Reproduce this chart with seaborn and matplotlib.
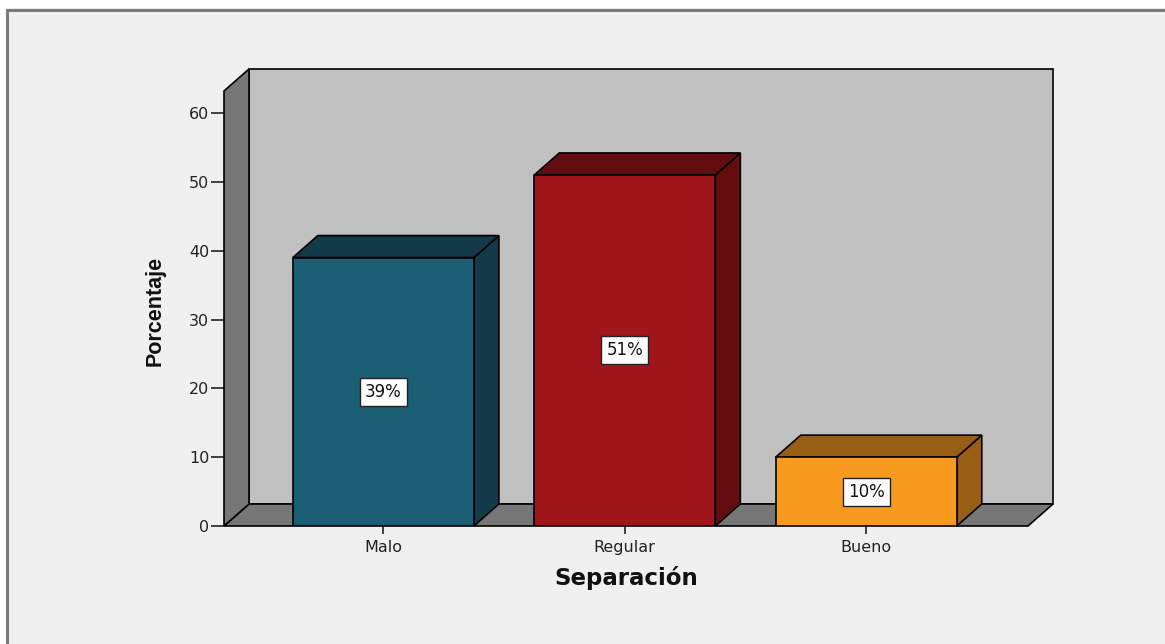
import matplotlib
matplotlib.use("Agg")
import matplotlib.pyplot as plt
from matplotlib.patches import Polygon, Rectangle
from matplotlib.lines import Line2D
import seaborn as sns
import pandas as pd

# Data
categorias = ["Malo", "Regular", "Bueno"]
porcentajes = [39, 51, 10]
etiquetas = ["39%", "51%", "10%"]
y_ticks = [0, 10, 20, 30, 40, 50, 60]

# Colours: front face and shaded (top / side) face per bar
color_frente = ["#1c5e74", "#a0161a", "#f79a1e"]
color_sombra = ["#133a48", "#630d10", "#985e13"]
pared_fondo = "#c0c0c0"
pared_gris = "#777777"
fondo = "#f0f0f0"

sns.set_style("white")
plt.rcParams["font.family"] = ["DejaVu Sans"]

W, H = 1165, 644
fig = plt.figure(figsize=(W / 100, H / 100), dpi=100, facecolor=fondo)

# front plane of the 3-D box, in pixels
left_px, right_px, bottom_px, top_px = 224, 1028, 526, 91
ax = fig.add_axes([left_px / W, 1 - bottom_px / H,
                   (right_px - left_px) / W, (bottom_px - top_px) / H])
ax.set_facecolor("none")

df = pd.DataFrame({"cat": categorias, "pct": porcentajes})
sns.barplot(data=df, x="cat", y="pct", hue="cat", palette=color_frente,
            width=0.75, edgecolor="black", linewidth=1.2, legend=False,
            ax=ax, zorder=5, saturation=1)

xlim = (-0.66, 2.67)
ylim = (0, 63.2)
ax.set_xlim(*xlim)
ax.set_ylim(*ylim)

# depth of the box in pixels, converted to data units
depth_x_px, depth_y_px = 25, 22
ddx = depth_x_px * (xlim[1] - xlim[0]) / (right_px - left_px)
ddy = depth_y_px * (ylim[1] - ylim[0]) / (bottom_px - top_px)

edge = dict(edgecolor="black", linewidth=1.2, clip_on=False, joinstyle="miter")
x0, x1 = xlim
y0, y1 = ylim
# back wall
ax.add_patch(Polygon([(x0 + ddx, y0 + ddy), (x1 + ddx, y0 + ddy),
                      (x1 + ddx, y1 + ddy), (x0 + ddx, y1 + ddy)],
                     facecolor=pared_fondo, zorder=1, **edge))
# floor
ax.add_patch(Polygon([(x0, y0), (x1, y0), (x1 + ddx, y0 + ddy), (x0 + ddx, y0 + ddy)],
                     facecolor=pared_gris, zorder=2, **edge))
# side wall
ax.add_patch(Polygon([(x0, y0), (x0, y1), (x0 + ddx, y1 + ddy), (x0 + ddx, y0 + ddy)],
                     facecolor=pared_gris, zorder=2, **edge))

# top and side faces of each bar, plus the value label
barras = [p for p in ax.patches if isinstance(p, Rectangle)]
for bar, sombra, txt in zip(barras, color_sombra, etiquetas):
    bx0 = bar.get_x()
    bx1 = bx0 + bar.get_width()
    h = bar.get_height()
    ax.add_patch(Polygon([(bx1, 0), (bx1 + ddx, ddy), (bx1 + ddx, h + ddy), (bx1, h)],
                         facecolor=sombra, zorder=4, **edge))
    ax.add_patch(Polygon([(bx0, h), (bx0 + ddx, h + ddy), (bx1 + ddx, h + ddy), (bx1, h)],
                         facecolor=sombra, zorder=4, **edge))
    ax.text(bx0 + bar.get_width() / 2, h / 2, txt, ha="center", va="center",
            fontsize=12, color="#111111", zorder=7,
            bbox=dict(boxstyle="square,pad=0.3", facecolor="white",
                      edgecolor="#222222", linewidth=1.0))

for s in ax.spines.values():
    s.set_visible(False)

ax.set_yticks(y_ticks)
ax.set_yticklabels([str(v) for v in y_ticks])
ax.tick_params(axis="y", length=9.5, width=1.2, pad=1, labelsize=11.5,
               colors="#222222", left=True)
ax.tick_params(axis="x", length=6, width=1.2, pad=4, labelsize=11.5,
               colors="#222222", bottom=True)

ax.set_xlabel("Separación", fontsize=16.5, fontweight="bold", color="#111111",
              labelpad=8)
ax.set_ylabel("Porcentaje", fontsize=15.5, fontweight="bold", color="#111111",
              family=["Liberation Sans", "DejaVu Sans"])
ax.yaxis.set_label_coords(-0.073, 0.495)

# window frame: white margin with a grey border line
fig.patches.append(Rectangle((0, 1 - 8 / H), 1, 8 / H, transform=fig.transFigure,
                             facecolor="white", edgecolor="none", zorder=0))
fig.patches.append(Rectangle((0, 0), 6 / W, 1, transform=fig.transFigure,
                             facecolor="white", edgecolor="none", zorder=0))
fig.lines.append(Line2D([6.5 / W, 1], [1 - 9.5 / H, 1 - 9.5 / H],
                        transform=fig.transFigure, color="#7a7a7a", linewidth=2.2))
fig.lines.append(Line2D([7 / W, 7 / W], [0, 1 - 9.5 / H],
                        transform=fig.transFigure, color="#7a7a7a", linewidth=2.2))

fig.savefig("out.png", dpi=100, facecolor=fondo)
